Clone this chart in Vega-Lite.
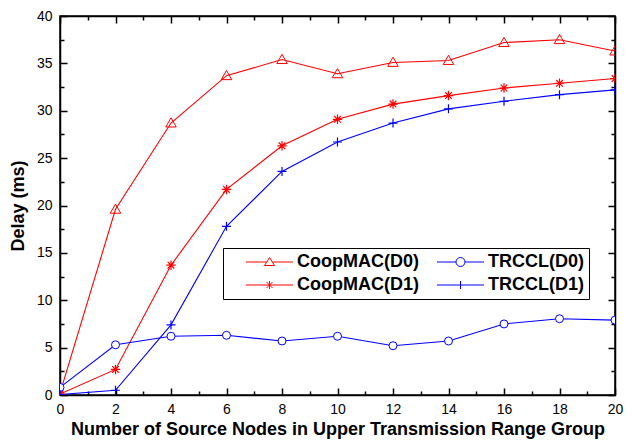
{
  "$schema": "https://vega.github.io/schema/vega-lite/v6.json",
  "autosize": "none",
  "width": 555,
  "height": 379,
  "padding": {"left": 60, "top": 16, "right": 17, "bottom": 45},
  "background": "white",
  "config": {
    "view": {"stroke": "black", "strokeWidth": 1.5},
    "font": "Liberation Sans",
    "axis": {
      "domainColor": "black", "domainWidth": 1.5, "tickColor": "black", "tickWidth": 1.5,
      "grid": false, "labelFont": "Liberation Sans", "labelFontSize": 14, "labelColor": "black",
      "titleFont": "Liberation Sans", "titleFontSize": 18, "titleFontWeight": "bold", "titleColor": "black"
    },
    "legend": {
      "labelFont": "Liberation Sans", "labelFontSize": 18, "labelFontWeight": "bold", "labelColor": "black",
      "symbolSize": 100, "symbolStrokeWidth": 1, "symbolFillColor": "white", "symbolOpacity": 1,
      "labelOffset": 51, "rowPadding": 5, "columnPadding": -19, "padding": 5,
      "strokeColor": "black", "fillColor": "white"
    }
  },
  "data": {"values": [
    {"x": 0, "y": 0.2, "series": "CoopMAC(D0)"}, {"x": 2, "y": 19.6, "series": "CoopMAC(D0)"}, {"x": 4, "y": 28.7, "series": "CoopMAC(D0)"}, {"x": 6, "y": 33.7, "series": "CoopMAC(D0)"}, {"x": 8, "y": 35.4, "series": "CoopMAC(D0)"}, {"x": 10, "y": 33.9, "series": "CoopMAC(D0)"}, {"x": 12, "y": 35.1, "series": "CoopMAC(D0)"}, {"x": 14, "y": 35.3, "series": "CoopMAC(D0)"}, {"x": 16, "y": 37.2, "series": "CoopMAC(D0)"}, {"x": 18, "y": 37.5, "series": "CoopMAC(D0)"}, {"x": 20, "y": 36.3, "series": "CoopMAC(D0)"},
    {"x": 0, "y": 0.1, "series": "CoopMAC(D1)"}, {"x": 2, "y": 2.7, "series": "CoopMAC(D1)"}, {"x": 4, "y": 13.7, "series": "CoopMAC(D1)"}, {"x": 6, "y": 21.7, "series": "CoopMAC(D1)"}, {"x": 8, "y": 26.3, "series": "CoopMAC(D1)"}, {"x": 10, "y": 29.1, "series": "CoopMAC(D1)"}, {"x": 12, "y": 30.7, "series": "CoopMAC(D1)"}, {"x": 14, "y": 31.6, "series": "CoopMAC(D1)"}, {"x": 16, "y": 32.4, "series": "CoopMAC(D1)"}, {"x": 18, "y": 32.9, "series": "CoopMAC(D1)"}, {"x": 20, "y": 33.4, "series": "CoopMAC(D1)"},
    {"x": 0, "y": 0.8, "series": "TRCCL(D0)"}, {"x": 2, "y": 5.3, "series": "TRCCL(D0)"}, {"x": 4, "y": 6.2, "series": "TRCCL(D0)"}, {"x": 6, "y": 6.3, "series": "TRCCL(D0)"}, {"x": 8, "y": 5.7, "series": "TRCCL(D0)"}, {"x": 10, "y": 6.2, "series": "TRCCL(D0)"}, {"x": 12, "y": 5.2, "series": "TRCCL(D0)"}, {"x": 14, "y": 5.7, "series": "TRCCL(D0)"}, {"x": 16, "y": 7.5, "series": "TRCCL(D0)"}, {"x": 18, "y": 8.05, "series": "TRCCL(D0)"}, {"x": 20, "y": 7.9, "series": "TRCCL(D0)"},
    {"x": 0, "y": 0.05, "series": "TRCCL(D1)"}, {"x": 2, "y": 0.5, "series": "TRCCL(D1)"}, {"x": 4, "y": 7.4, "series": "TRCCL(D1)"}, {"x": 6, "y": 17.8, "series": "TRCCL(D1)"}, {"x": 8, "y": 23.6, "series": "TRCCL(D1)"}, {"x": 10, "y": 26.7, "series": "TRCCL(D1)"}, {"x": 12, "y": 28.7, "series": "TRCCL(D1)"}, {"x": 14, "y": 30.2, "series": "TRCCL(D1)"}, {"x": 16, "y": 31.0, "series": "TRCCL(D1)"}, {"x": 18, "y": 31.7, "series": "TRCCL(D1)"}, {"x": 20, "y": 32.2, "series": "TRCCL(D1)"}
  ]},
  "resolve": {"axis": {"x": "independent", "y": "independent"}},
  "layer": [
    {
      "mark": {"type": "point", "opacity": 0},
      "encoding": {
        "x": {"field": "x", "type": "quantitative", "scale": {"domain": [0, 20], "nice": false, "zero": false},
              "axis": {"orient": "bottom", "values": [0, 2, 4, 6, 8, 10, 12, 14, 16, 18, 20], "tickSize": -7, "labelPadding": 14, "title": "Number of Source Nodes in Upper Transmission Range Group", "titlePadding": 4, "labelFlush": false}},
        "y": {"field": "y", "type": "quantitative", "scale": {"domain": [0, 40], "nice": false},
              "axis": {"orient": "left", "values": [0, 5, 10, 15, 20, 25, 30, 35, 40], "tickSize": -7, "labelPadding": 15, "title": "Delay (ms)", "titlePadding": 9, "labelFlush": false}}
      }
    },
    {
      "transform": [{"filter": "datum.series === 'CoopMAC(D0)'"}],
      "mark": {"type": "line", "strokeWidth": 1.1, "color": "#ff0000", "clip": true},
      "encoding": {"x": {"field": "x", "type": "quantitative", "axis": null}, "y": {"field": "y", "type": "quantitative", "axis": null}}
    },
    {
      "transform": [{"filter": "datum.series === 'CoopMAC(D1)'"}],
      "mark": {"type": "line", "strokeWidth": 1.1, "color": "#ff0000", "clip": true},
      "encoding": {"x": {"field": "x", "type": "quantitative", "axis": null}, "y": {"field": "y", "type": "quantitative", "axis": null}}
    },
    {
      "transform": [{"filter": "datum.series === 'TRCCL(D0)'"}],
      "mark": {"type": "line", "strokeWidth": 1.1, "color": "#0000ff", "clip": true},
      "encoding": {"x": {"field": "x", "type": "quantitative", "axis": null}, "y": {"field": "y", "type": "quantitative", "axis": null}}
    },
    {
      "transform": [{"filter": "datum.series === 'TRCCL(D1)'"}],
      "mark": {"type": "line", "strokeWidth": 1.1, "color": "#0000ff", "clip": true},
      "encoding": {"x": {"field": "x", "type": "quantitative", "axis": null}, "y": {"field": "y", "type": "quantitative", "axis": null}}
    },
    {
      "transform": [{"filter": "datum.series === 'CoopMAC(D0)'"}],
      "mark": {"type": "point", "shape": "M0,-1L1,0.75L-1,0.75Z", "filled": false, "stroke": "#ff0000", "strokeWidth": 1, "size": 110, "opacity": 1, "clip": true},
      "encoding": {"x": {"field": "x", "type": "quantitative", "axis": null}, "y": {"field": "y", "type": "quantitative", "axis": null}}
    },
    {
      "transform": [{"filter": "datum.series === 'CoopMAC(D1)'"}],
      "mark": {"type": "point", "shape": "M0,-1L0,1M-1,0L1,0M-0.7,-0.7L0.7,0.7M-0.7,0.7L0.7,-0.7", "filled": false, "stroke": "#ff0000", "strokeWidth": 1.2, "size": 90, "opacity": 1, "clip": true},
      "encoding": {"x": {"field": "x", "type": "quantitative", "axis": null}, "y": {"field": "y", "type": "quantitative", "axis": null}}
    },
    {
      "transform": [{"filter": "datum.series === 'TRCCL(D0)'"}],
      "mark": {"type": "point", "shape": "circle", "filled": false, "stroke": "#0000ff", "fill": "white", "fillOpacity": 1, "strokeWidth": 1, "size": 64, "opacity": 1, "clip": true},
      "encoding": {"x": {"field": "x", "type": "quantitative", "axis": null}, "y": {"field": "y", "type": "quantitative", "axis": null}}
    },
    {
      "transform": [{"filter": "datum.series === 'TRCCL(D1)'"}],
      "mark": {"type": "point", "shape": "M0,-1L0,1M-1,0L1,0", "filled": false, "stroke": "#0000ff", "strokeWidth": 1.2, "size": 81, "opacity": 1, "clip": true},
      "encoding": {"x": {"field": "x", "type": "quantitative", "axis": null}, "y": {"field": "y", "type": "quantitative", "axis": null}}
    },
    {
      "transform": [{"filter": "datum.x === 0"}],
      "mark": {"type": "point", "filled": false, "opacity": 0},
      "encoding": {
        "x": {"field": "x", "type": "quantitative", "axis": null},
        "y": {"field": "y", "type": "quantitative", "axis": null},
        "color": {"field": "series", "type": "nominal",
                  "scale": {"domain": ["CoopMAC(D0)", "CoopMAC(D1)", "TRCCL(D0)", "TRCCL(D1)"], "range": ["#ff0000", "#ff0000", "#0000ff", "#0000ff"]},
                  "legend": {"title": null, "orient": "none", "legendX": 163, "legendY": 232, "columns": 2, "labelExpr": "indexof(datum.label, 'TRCCL') === 0 ? datum.label + '\u00a0\u00a0' : datum.label"}},
        "shape": {"field": "series", "type": "nominal",
                  "scale": {"domain": ["CoopMAC(D0)", "CoopMAC(D1)", "TRCCL(D0)", "TRCCL(D1)"],
                            "range": ["M-0.9,0L-0.9,0M1.8,0L5.9,0M7.1,0L11.2,0M6.5,-0.9L7.5,0.7L5.5,0.7Z",
                                      "M-0.9,0L-0.9,0M1.8,0L11.2,0M6.5,-0.8L6.5,0.8M5.9,-0.6L7.1,0.6M5.9,0.6L7.1,-0.6",
                                      "M-0.9,0L-0.9,0M1.8,0L5.6,0M7.4,0L11.2,0M7.4,0A0.9,0.9 0 1,1 5.6,0A0.9,0.9 0 1,1 7.4,0",
                                      "M-0.9,0L-0.9,0M1.8,0L11.2,0M6.5,-0.8L6.5,0.8"]},
                  "legend": {"title": null, "orient": "none", "legendX": 163, "legendY": 232, "columns": 2, "labelExpr": "indexof(datum.label, 'TRCCL') === 0 ? datum.label + '\u00a0\u00a0' : datum.label"}}
      }
    },
    {
      "mark": {"type": "point", "opacity": 0},
      "encoding": {
        "x": {"field": "x", "type": "quantitative", "axis": {"orient": "top", "values": [0, 2, 4, 6, 8, 10, 12, 14, 16, 18, 20], "tickSize": -7, "labels": false, "title": null}},
        "y": {"field": "y", "type": "quantitative", "axis": {"orient": "right", "values": [0, 5, 10, 15, 20, 25, 30, 35, 40], "tickSize": -7, "labels": false, "title": null}}
      }
    },
    {
      "mark": {"type": "point", "opacity": 0},
      "encoding": {
        "x": {"field": "x", "type": "quantitative", "axis": {"orient": "bottom", "values": [1, 3, 5, 7, 9, 11, 13, 15, 17, 19], "tickSize": -4, "labels": false, "domain": false, "title": null}},
        "y": {"field": "y", "type": "quantitative", "axis": {"orient": "left", "values": [2.5, 7.5, 12.5, 17.5, 22.5, 27.5, 32.5, 37.5], "tickSize": -4, "labels": false, "domain": false, "title": null}}
      }
    },
    {
      "mark": {"type": "point", "opacity": 0},
      "encoding": {
        "x": {"field": "x", "type": "quantitative", "axis": {"orient": "top", "values": [1, 3, 5, 7, 9, 11, 13, 15, 17, 19], "tickSize": -4, "labels": false, "domain": false, "title": null}},
        "y": {"field": "y", "type": "quantitative", "axis": {"orient": "right", "values": [2.5, 7.5, 12.5, 17.5, 22.5, 27.5, 32.5, 37.5], "tickSize": -4, "labels": false, "domain": false, "title": null}}
      }
    }
  ]
}
